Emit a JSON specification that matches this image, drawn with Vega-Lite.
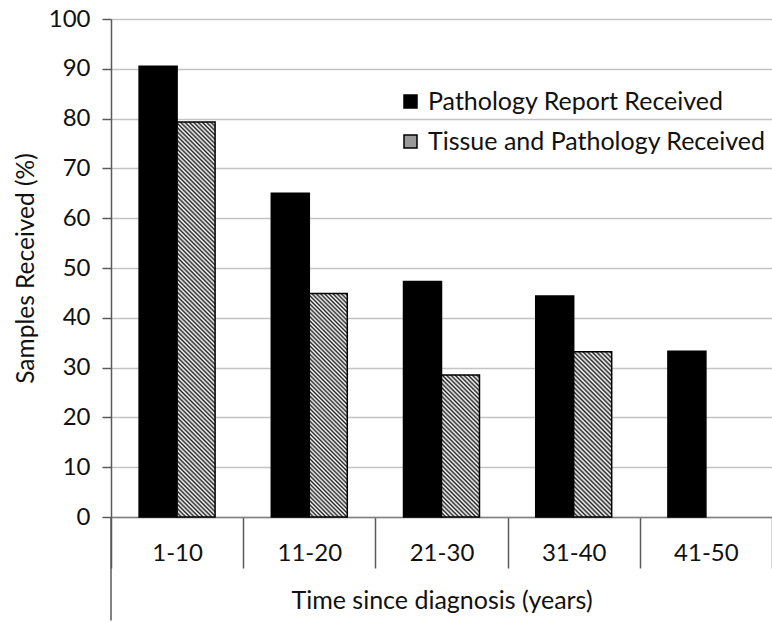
{
  "$schema": "https://vega.github.io/schema/vega-lite/v6.json",
  "autosize": {"type": "none"},
  "padding": {"left": 111, "top": 19, "right": 0, "bottom": 105},
  "width": 661,
  "height": 498,
  "background": "white",
  "config": {
    "font": "Lato",
    "view": {"stroke": null},
    "axis": {"labelColor": "#111", "titleColor": "#111", "titleFontWeight": "normal"}
  },
  "data": {
    "values": [
      {"cat": "1-10", "series": "Pathology Report Received", "value": 90.5},
      {"cat": "1-10", "series": "Tissue and Pathology Received", "value": 79.3},
      {"cat": "11-20", "series": "Pathology Report Received", "value": 65.0},
      {"cat": "11-20", "series": "Tissue and Pathology Received", "value": 44.9},
      {"cat": "21-30", "series": "Pathology Report Received", "value": 47.3},
      {"cat": "21-30", "series": "Tissue and Pathology Received", "value": 28.5},
      {"cat": "31-40", "series": "Pathology Report Received", "value": 44.4},
      {"cat": "31-40", "series": "Tissue and Pathology Received", "value": 33.2},
      {"cat": "41-50", "series": "Pathology Report Received", "value": 33.3},
      {"cat": "41-50", "series": "Tissue and Pathology Received", "value": 0}
    ]
  },
  "encoding": {
    "x": {
      "field": "cat", "type": "nominal",
      "scale": {"domain": ["1-10", "11-20", "21-30", "31-40", "41-50"], "paddingInner": 0, "paddingOuter": 0},
      "axis": {
        "title": "Time since diagnosis (years)", "titleFontSize": 25, "titlePadding": 20,
        "labelFontSize": 24, "labelAngle": 0, "labelPadding": -27,
        "tickBand": "extent", "tickSize": 51, "tickColor": "#5a5a5a", "tickWidth": 1.5,
        "domainColor": "#808080", "domainWidth": 1.5, "grid": false
      }
    },
    "y": {
      "field": "value", "type": "quantitative",
      "scale": {"domain": [0, 100], "nice": false},
      "axis": {
        "title": "Samples Received (%)", "titleFontSize": 24.5, "titlePadding": 10,
        "values": [0, 10, 20, 30, 40, 50, 60, 70, 80, 90, 100],
        "labelFontSize": 24, "labelPadding": 12,
        "tickSize": 9, "tickColor": "#5a5a5a", "tickWidth": 1.5,
        "domainColor": "#5a5a5a", "domainWidth": 1.5,
        "grid": true, "gridColor": "#c4c4c4", "gridWidth": 1.5
      }
    }
  },
  "layer": [
    {
      "transform": [{"filter": "datum.cat === '1-10' && datum.series === 'Pathology Report Received'"}],
      "mark": {"type": "rule", "color": "#5a5a5a", "strokeWidth": 1.5},
      "encoding": {
        "x": {"datum": "1-10", "bandPosition": 0},
        "y": {"datum": 0},
        "y2": {"datum": -20.8}
      }
    },
    {
      "transform": [{"filter": "datum.series === 'Pathology Report Received'"}],
      "mark": {"type": "bar", "stroke": "black", "strokeWidth": 1.5},
      "encoding": {
        "xOffset": {"field": "series", "scale": {"domain": ["Pathology Report Received", "Tissue and Pathology Received"], "paddingInner": 0, "paddingOuter": 0.74}},
        "color": {
          "field": "series", "type": "nominal",
          "scale": {"domain": ["Pathology Report Received", "Tissue and Pathology Received"], "range": ["black", "#999999"]},
          "legend": {
            "orient": "none", "legendX": 287, "legendY": 70, "title": null,
            "labelFontSize": 25, "labelColor": "#111", "labelOffset": 5, "labelLimit": 400,
            "symbolType": "square", "symbolSize": 169, "symbolStrokeColor": "black", "symbolStrokeWidth": 1.5,
            "rowPadding": 14
          }
        }
      }
    },
    {
      "transform": [{"filter": "datum.series === 'Tissue and Pathology Received' && datum.cat === '1-10'"}],
      "mark": {"type": "bar", "stroke": "black", "strokeWidth": 1.5,
        "fill": {"gradient": "linear", "x1": 0, "y1": 1, "x2": 0.1045, "y2": -0.0862, "stops": [
          {"offset": 0, "color": "#222"}, {"offset": 0.005, "color": "#fff"}, {"offset": 0.01, "color": "#222"}, {"offset": 0.015, "color": "#fff"}, {"offset": 0.02, "color": "#222"}, {"offset": 0.025, "color": "#fff"}, {"offset": 0.03, "color": "#222"}, {"offset": 0.035, "color": "#fff"}, {"offset": 0.04, "color": "#222"}, {"offset": 0.045, "color": "#fff"},
          {"offset": 0.05, "color": "#222"}, {"offset": 0.055, "color": "#fff"}, {"offset": 0.06, "color": "#222"}, {"offset": 0.065, "color": "#fff"}, {"offset": 0.07, "color": "#222"}, {"offset": 0.075, "color": "#fff"}, {"offset": 0.08, "color": "#222"}, {"offset": 0.085, "color": "#fff"}, {"offset": 0.09, "color": "#222"}, {"offset": 0.095, "color": "#fff"},
          {"offset": 0.1, "color": "#222"}, {"offset": 0.105, "color": "#fff"}, {"offset": 0.11, "color": "#222"}, {"offset": 0.115, "color": "#fff"}, {"offset": 0.12, "color": "#222"}, {"offset": 0.125, "color": "#fff"}, {"offset": 0.13, "color": "#222"}, {"offset": 0.135, "color": "#fff"}, {"offset": 0.14, "color": "#222"}, {"offset": 0.145, "color": "#fff"},
          {"offset": 0.15, "color": "#222"}, {"offset": 0.155, "color": "#fff"}, {"offset": 0.16, "color": "#222"}, {"offset": 0.165, "color": "#fff"}, {"offset": 0.17, "color": "#222"}, {"offset": 0.175, "color": "#fff"}, {"offset": 0.18, "color": "#222"}, {"offset": 0.185, "color": "#fff"}, {"offset": 0.19, "color": "#222"}, {"offset": 0.195, "color": "#fff"},
          {"offset": 0.2, "color": "#222"}, {"offset": 0.205, "color": "#fff"}, {"offset": 0.21, "color": "#222"}, {"offset": 0.215, "color": "#fff"}, {"offset": 0.22, "color": "#222"}, {"offset": 0.225, "color": "#fff"}, {"offset": 0.23, "color": "#222"}, {"offset": 0.235, "color": "#fff"}, {"offset": 0.24, "color": "#222"}, {"offset": 0.245, "color": "#fff"},
          {"offset": 0.25, "color": "#222"}, {"offset": 0.255, "color": "#fff"}, {"offset": 0.26, "color": "#222"}, {"offset": 0.265, "color": "#fff"}, {"offset": 0.27, "color": "#222"}, {"offset": 0.275, "color": "#fff"}, {"offset": 0.28, "color": "#222"}, {"offset": 0.285, "color": "#fff"}, {"offset": 0.29, "color": "#222"}, {"offset": 0.295, "color": "#fff"},
          {"offset": 0.3, "color": "#222"}, {"offset": 0.305, "color": "#fff"}, {"offset": 0.31, "color": "#222"}, {"offset": 0.315, "color": "#fff"}, {"offset": 0.32, "color": "#222"}, {"offset": 0.325, "color": "#fff"}, {"offset": 0.33, "color": "#222"}, {"offset": 0.335, "color": "#fff"}, {"offset": 0.34, "color": "#222"}, {"offset": 0.345, "color": "#fff"},
          {"offset": 0.35, "color": "#222"}, {"offset": 0.355, "color": "#fff"}, {"offset": 0.36, "color": "#222"}, {"offset": 0.365, "color": "#fff"}, {"offset": 0.37, "color": "#222"}, {"offset": 0.375, "color": "#fff"}, {"offset": 0.38, "color": "#222"}, {"offset": 0.385, "color": "#fff"}, {"offset": 0.39, "color": "#222"}, {"offset": 0.395, "color": "#fff"},
          {"offset": 0.4, "color": "#222"}, {"offset": 0.405, "color": "#fff"}, {"offset": 0.41, "color": "#222"}, {"offset": 0.415, "color": "#fff"}, {"offset": 0.42, "color": "#222"}, {"offset": 0.425, "color": "#fff"}, {"offset": 0.43, "color": "#222"}, {"offset": 0.435, "color": "#fff"}, {"offset": 0.44, "color": "#222"}, {"offset": 0.445, "color": "#fff"},
          {"offset": 0.45, "color": "#222"}, {"offset": 0.455, "color": "#fff"}, {"offset": 0.46, "color": "#222"}, {"offset": 0.465, "color": "#fff"}, {"offset": 0.47, "color": "#222"}, {"offset": 0.475, "color": "#fff"}, {"offset": 0.48, "color": "#222"}, {"offset": 0.485, "color": "#fff"}, {"offset": 0.49, "color": "#222"}, {"offset": 0.495, "color": "#fff"},
          {"offset": 0.5, "color": "#222"}, {"offset": 0.505, "color": "#fff"}, {"offset": 0.51, "color": "#222"}, {"offset": 0.515, "color": "#fff"}, {"offset": 0.52, "color": "#222"}, {"offset": 0.525, "color": "#fff"}, {"offset": 0.53, "color": "#222"}, {"offset": 0.535, "color": "#fff"}, {"offset": 0.54, "color": "#222"}, {"offset": 0.545, "color": "#fff"},
          {"offset": 0.55, "color": "#222"}, {"offset": 0.555, "color": "#fff"}, {"offset": 0.56, "color": "#222"}, {"offset": 0.565, "color": "#fff"}, {"offset": 0.57, "color": "#222"}, {"offset": 0.575, "color": "#fff"}, {"offset": 0.58, "color": "#222"}, {"offset": 0.585, "color": "#fff"}, {"offset": 0.59, "color": "#222"}, {"offset": 0.595, "color": "#fff"},
          {"offset": 0.6, "color": "#222"}, {"offset": 0.605, "color": "#fff"}, {"offset": 0.61, "color": "#222"}, {"offset": 0.615, "color": "#fff"}, {"offset": 0.62, "color": "#222"}, {"offset": 0.625, "color": "#fff"}, {"offset": 0.63, "color": "#222"}, {"offset": 0.635, "color": "#fff"}, {"offset": 0.64, "color": "#222"}, {"offset": 0.645, "color": "#fff"},
          {"offset": 0.65, "color": "#222"}, {"offset": 0.655, "color": "#fff"}, {"offset": 0.66, "color": "#222"}, {"offset": 0.665, "color": "#fff"}, {"offset": 0.67, "color": "#222"}, {"offset": 0.675, "color": "#fff"}, {"offset": 0.68, "color": "#222"}, {"offset": 0.685, "color": "#fff"}, {"offset": 0.69, "color": "#222"}, {"offset": 0.695, "color": "#fff"},
          {"offset": 0.7, "color": "#222"}, {"offset": 0.705, "color": "#fff"}, {"offset": 0.71, "color": "#222"}, {"offset": 0.715, "color": "#fff"}, {"offset": 0.72, "color": "#222"}, {"offset": 0.725, "color": "#fff"}, {"offset": 0.73, "color": "#222"}, {"offset": 0.735, "color": "#fff"}, {"offset": 0.74, "color": "#222"}, {"offset": 0.745, "color": "#fff"},
          {"offset": 0.75, "color": "#222"}, {"offset": 0.755, "color": "#fff"}, {"offset": 0.76, "color": "#222"}, {"offset": 0.765, "color": "#fff"}, {"offset": 0.77, "color": "#222"}, {"offset": 0.775, "color": "#fff"}, {"offset": 0.78, "color": "#222"}, {"offset": 0.785, "color": "#fff"}, {"offset": 0.79, "color": "#222"}, {"offset": 0.795, "color": "#fff"},
          {"offset": 0.8, "color": "#222"}, {"offset": 0.805, "color": "#fff"}, {"offset": 0.81, "color": "#222"}, {"offset": 0.815, "color": "#fff"}, {"offset": 0.82, "color": "#222"}, {"offset": 0.825, "color": "#fff"}, {"offset": 0.83, "color": "#222"}, {"offset": 0.835, "color": "#fff"}, {"offset": 0.84, "color": "#222"}, {"offset": 0.845, "color": "#fff"},
          {"offset": 0.85, "color": "#222"}, {"offset": 0.855, "color": "#fff"}, {"offset": 0.86, "color": "#222"}, {"offset": 0.865, "color": "#fff"}, {"offset": 0.87, "color": "#222"}, {"offset": 0.875, "color": "#fff"}, {"offset": 0.88, "color": "#222"}, {"offset": 0.885, "color": "#fff"}, {"offset": 0.89, "color": "#222"}, {"offset": 0.895, "color": "#fff"},
          {"offset": 0.9, "color": "#222"}, {"offset": 0.905, "color": "#fff"}, {"offset": 0.91, "color": "#222"}, {"offset": 0.915, "color": "#fff"}, {"offset": 0.92, "color": "#222"}, {"offset": 0.925, "color": "#fff"}, {"offset": 0.93, "color": "#222"}, {"offset": 0.935, "color": "#fff"}, {"offset": 0.94, "color": "#222"}, {"offset": 0.945, "color": "#fff"},
          {"offset": 0.95, "color": "#222"}, {"offset": 0.955, "color": "#fff"}, {"offset": 0.96, "color": "#222"}, {"offset": 0.965, "color": "#fff"}, {"offset": 0.97, "color": "#222"}, {"offset": 0.975, "color": "#fff"}, {"offset": 0.98, "color": "#222"}, {"offset": 0.985, "color": "#fff"}, {"offset": 0.99, "color": "#222"}, {"offset": 0.995, "color": "#fff"},
          {"offset": 1, "color": "#222"}
        ]}},
      "encoding": {
        "xOffset": {"field": "series", "scale": {"domain": ["Pathology Report Received", "Tissue and Pathology Received"], "paddingInner": 0, "paddingOuter": 0.74}}
      }
    },
    {
      "transform": [{"filter": "datum.series === 'Tissue and Pathology Received' && datum.cat === '11-20'"}],
      "mark": {"type": "bar", "stroke": "black", "strokeWidth": 1.5,
        "fill": {"gradient": "linear", "x1": 0, "y1": 1, "x2": 0.1933, "y2": -0.1371, "stops": [
          {"offset": 0, "color": "#222"}, {"offset": 0.008, "color": "#fff"}, {"offset": 0.016, "color": "#222"}, {"offset": 0.024, "color": "#fff"}, {"offset": 0.032, "color": "#222"}, {"offset": 0.04, "color": "#fff"}, {"offset": 0.048, "color": "#222"}, {"offset": 0.056, "color": "#fff"}, {"offset": 0.064, "color": "#222"}, {"offset": 0.072, "color": "#fff"},
          {"offset": 0.08, "color": "#222"}, {"offset": 0.088, "color": "#fff"}, {"offset": 0.096, "color": "#222"}, {"offset": 0.104, "color": "#fff"}, {"offset": 0.112, "color": "#222"}, {"offset": 0.12, "color": "#fff"}, {"offset": 0.128, "color": "#222"}, {"offset": 0.136, "color": "#fff"}, {"offset": 0.144, "color": "#222"}, {"offset": 0.152, "color": "#fff"},
          {"offset": 0.16, "color": "#222"}, {"offset": 0.168, "color": "#fff"}, {"offset": 0.176, "color": "#222"}, {"offset": 0.184, "color": "#fff"}, {"offset": 0.192, "color": "#222"}, {"offset": 0.2, "color": "#fff"}, {"offset": 0.208, "color": "#222"}, {"offset": 0.216, "color": "#fff"}, {"offset": 0.224, "color": "#222"}, {"offset": 0.232, "color": "#fff"},
          {"offset": 0.24, "color": "#222"}, {"offset": 0.248, "color": "#fff"}, {"offset": 0.256, "color": "#222"}, {"offset": 0.264, "color": "#fff"}, {"offset": 0.272, "color": "#222"}, {"offset": 0.28, "color": "#fff"}, {"offset": 0.288, "color": "#222"}, {"offset": 0.296, "color": "#fff"}, {"offset": 0.304, "color": "#222"}, {"offset": 0.312, "color": "#fff"},
          {"offset": 0.32, "color": "#222"}, {"offset": 0.328, "color": "#fff"}, {"offset": 0.336, "color": "#222"}, {"offset": 0.344, "color": "#fff"}, {"offset": 0.352, "color": "#222"}, {"offset": 0.36, "color": "#fff"}, {"offset": 0.368, "color": "#222"}, {"offset": 0.376, "color": "#fff"}, {"offset": 0.384, "color": "#222"}, {"offset": 0.392, "color": "#fff"},
          {"offset": 0.4, "color": "#222"}, {"offset": 0.408, "color": "#fff"}, {"offset": 0.416, "color": "#222"}, {"offset": 0.424, "color": "#fff"}, {"offset": 0.432, "color": "#222"}, {"offset": 0.44, "color": "#fff"}, {"offset": 0.448, "color": "#222"}, {"offset": 0.456, "color": "#fff"}, {"offset": 0.464, "color": "#222"}, {"offset": 0.472, "color": "#fff"},
          {"offset": 0.48, "color": "#222"}, {"offset": 0.488, "color": "#fff"}, {"offset": 0.496, "color": "#222"}, {"offset": 0.504, "color": "#fff"}, {"offset": 0.512, "color": "#222"}, {"offset": 0.52, "color": "#fff"}, {"offset": 0.528, "color": "#222"}, {"offset": 0.536, "color": "#fff"}, {"offset": 0.544, "color": "#222"}, {"offset": 0.552, "color": "#fff"},
          {"offset": 0.56, "color": "#222"}, {"offset": 0.568, "color": "#fff"}, {"offset": 0.576, "color": "#222"}, {"offset": 0.584, "color": "#fff"}, {"offset": 0.592, "color": "#222"}, {"offset": 0.6, "color": "#fff"}, {"offset": 0.608, "color": "#222"}, {"offset": 0.616, "color": "#fff"}, {"offset": 0.624, "color": "#222"}, {"offset": 0.632, "color": "#fff"},
          {"offset": 0.64, "color": "#222"}, {"offset": 0.648, "color": "#fff"}, {"offset": 0.656, "color": "#222"}, {"offset": 0.664, "color": "#fff"}, {"offset": 0.672, "color": "#222"}, {"offset": 0.68, "color": "#fff"}, {"offset": 0.688, "color": "#222"}, {"offset": 0.696, "color": "#fff"}, {"offset": 0.704, "color": "#222"}, {"offset": 0.712, "color": "#fff"},
          {"offset": 0.72, "color": "#222"}, {"offset": 0.728, "color": "#fff"}, {"offset": 0.736, "color": "#222"}, {"offset": 0.744, "color": "#fff"}, {"offset": 0.752, "color": "#222"}, {"offset": 0.76, "color": "#fff"}, {"offset": 0.768, "color": "#222"}, {"offset": 0.776, "color": "#fff"}, {"offset": 0.784, "color": "#222"}, {"offset": 0.792, "color": "#fff"},
          {"offset": 0.8, "color": "#222"}, {"offset": 0.808, "color": "#fff"}, {"offset": 0.816, "color": "#222"}, {"offset": 0.824, "color": "#fff"}, {"offset": 0.832, "color": "#222"}, {"offset": 0.84, "color": "#fff"}, {"offset": 0.848, "color": "#222"}, {"offset": 0.856, "color": "#fff"}, {"offset": 0.864, "color": "#222"}, {"offset": 0.872, "color": "#fff"},
          {"offset": 0.88, "color": "#222"}, {"offset": 0.888, "color": "#fff"}, {"offset": 0.896, "color": "#222"}, {"offset": 0.904, "color": "#fff"}, {"offset": 0.912, "color": "#222"}, {"offset": 0.92, "color": "#fff"}, {"offset": 0.928, "color": "#222"}, {"offset": 0.936, "color": "#fff"}, {"offset": 0.944, "color": "#222"}, {"offset": 0.952, "color": "#fff"},
          {"offset": 0.96, "color": "#222"}, {"offset": 0.968, "color": "#fff"}, {"offset": 0.976, "color": "#222"}, {"offset": 0.984, "color": "#fff"}, {"offset": 0.992, "color": "#222"}, {"offset": 1, "color": "#fff"}
        ]}},
      "encoding": {
        "xOffset": {"field": "series", "scale": {"domain": ["Pathology Report Received", "Tissue and Pathology Received"], "paddingInner": 0, "paddingOuter": 0.74}}
      }
    },
    {
      "transform": [{"filter": "datum.series === 'Tissue and Pathology Received' && datum.cat === '21-30'"}],
      "mark": {"type": "bar", "stroke": "black", "strokeWidth": 1.5,
        "fill": {"gradient": "linear", "x1": 0, "y1": 1, "x2": 0.3168, "y2": -0.1829, "stops": [
          {"offset": 0, "color": "#222"}, {"offset": 0.012, "color": "#fff"}, {"offset": 0.024, "color": "#222"}, {"offset": 0.036, "color": "#fff"}, {"offset": 0.048, "color": "#222"}, {"offset": 0.06, "color": "#fff"}, {"offset": 0.072, "color": "#222"}, {"offset": 0.084, "color": "#fff"}, {"offset": 0.096, "color": "#222"}, {"offset": 0.108, "color": "#fff"},
          {"offset": 0.12, "color": "#222"}, {"offset": 0.132, "color": "#fff"}, {"offset": 0.144, "color": "#222"}, {"offset": 0.156, "color": "#fff"}, {"offset": 0.168, "color": "#222"}, {"offset": 0.18, "color": "#fff"}, {"offset": 0.192, "color": "#222"}, {"offset": 0.204, "color": "#fff"}, {"offset": 0.216, "color": "#222"}, {"offset": 0.228, "color": "#fff"},
          {"offset": 0.24, "color": "#222"}, {"offset": 0.252, "color": "#fff"}, {"offset": 0.264, "color": "#222"}, {"offset": 0.276, "color": "#fff"}, {"offset": 0.288, "color": "#222"}, {"offset": 0.3, "color": "#fff"}, {"offset": 0.312, "color": "#222"}, {"offset": 0.324, "color": "#fff"}, {"offset": 0.336, "color": "#222"}, {"offset": 0.348, "color": "#fff"},
          {"offset": 0.36, "color": "#222"}, {"offset": 0.372, "color": "#fff"}, {"offset": 0.384, "color": "#222"}, {"offset": 0.396, "color": "#fff"}, {"offset": 0.408, "color": "#222"}, {"offset": 0.42, "color": "#fff"}, {"offset": 0.432, "color": "#222"}, {"offset": 0.444, "color": "#fff"}, {"offset": 0.456, "color": "#222"}, {"offset": 0.468, "color": "#fff"},
          {"offset": 0.48, "color": "#222"}, {"offset": 0.492, "color": "#fff"}, {"offset": 0.504, "color": "#222"}, {"offset": 0.516, "color": "#fff"}, {"offset": 0.528, "color": "#222"}, {"offset": 0.54, "color": "#fff"}, {"offset": 0.552, "color": "#222"}, {"offset": 0.564, "color": "#fff"}, {"offset": 0.576, "color": "#222"}, {"offset": 0.588, "color": "#fff"},
          {"offset": 0.6, "color": "#222"}, {"offset": 0.612, "color": "#fff"}, {"offset": 0.624, "color": "#222"}, {"offset": 0.636, "color": "#fff"}, {"offset": 0.648, "color": "#222"}, {"offset": 0.66, "color": "#fff"}, {"offset": 0.672, "color": "#222"}, {"offset": 0.684, "color": "#fff"}, {"offset": 0.696, "color": "#222"}, {"offset": 0.708, "color": "#fff"},
          {"offset": 0.72, "color": "#222"}, {"offset": 0.732, "color": "#fff"}, {"offset": 0.744, "color": "#222"}, {"offset": 0.756, "color": "#fff"}, {"offset": 0.768, "color": "#222"}, {"offset": 0.78, "color": "#fff"}, {"offset": 0.792, "color": "#222"}, {"offset": 0.804, "color": "#fff"}, {"offset": 0.816, "color": "#222"}, {"offset": 0.828, "color": "#fff"},
          {"offset": 0.84, "color": "#222"}, {"offset": 0.852, "color": "#fff"}, {"offset": 0.864, "color": "#222"}, {"offset": 0.876, "color": "#fff"}, {"offset": 0.888, "color": "#222"}, {"offset": 0.9, "color": "#fff"}, {"offset": 0.912, "color": "#222"}, {"offset": 0.924, "color": "#fff"}, {"offset": 0.936, "color": "#222"}, {"offset": 0.948, "color": "#fff"},
          {"offset": 0.96, "color": "#222"}, {"offset": 0.972, "color": "#fff"}, {"offset": 0.984, "color": "#222"}, {"offset": 0.996, "color": "#fff"}
        ]}},
      "encoding": {
        "xOffset": {"field": "series", "scale": {"domain": ["Pathology Report Received", "Tissue and Pathology Received"], "paddingInner": 0, "paddingOuter": 0.74}}
      }
    },
    {
      "transform": [{"filter": "datum.series === 'Tissue and Pathology Received' && datum.cat === '31-40'"}],
      "mark": {"type": "bar", "stroke": "black", "strokeWidth": 1.5,
        "fill": {"gradient": "linear", "x1": 0, "y1": 1, "x2": 0.2685, "y2": -0.1682, "stops": [
          {"offset": 0, "color": "#222"}, {"offset": 0.011, "color": "#fff"}, {"offset": 0.022, "color": "#222"}, {"offset": 0.033, "color": "#fff"}, {"offset": 0.044, "color": "#222"}, {"offset": 0.055, "color": "#fff"}, {"offset": 0.066, "color": "#222"}, {"offset": 0.077, "color": "#fff"}, {"offset": 0.088, "color": "#222"}, {"offset": 0.099, "color": "#fff"},
          {"offset": 0.11, "color": "#222"}, {"offset": 0.121, "color": "#fff"}, {"offset": 0.132, "color": "#222"}, {"offset": 0.143, "color": "#fff"}, {"offset": 0.154, "color": "#222"}, {"offset": 0.165, "color": "#fff"}, {"offset": 0.176, "color": "#222"}, {"offset": 0.187, "color": "#fff"}, {"offset": 0.198, "color": "#222"}, {"offset": 0.209, "color": "#fff"},
          {"offset": 0.22, "color": "#222"}, {"offset": 0.231, "color": "#fff"}, {"offset": 0.242, "color": "#222"}, {"offset": 0.253, "color": "#fff"}, {"offset": 0.264, "color": "#222"}, {"offset": 0.275, "color": "#fff"}, {"offset": 0.286, "color": "#222"}, {"offset": 0.297, "color": "#fff"}, {"offset": 0.308, "color": "#222"}, {"offset": 0.319, "color": "#fff"},
          {"offset": 0.33, "color": "#222"}, {"offset": 0.341, "color": "#fff"}, {"offset": 0.352, "color": "#222"}, {"offset": 0.363, "color": "#fff"}, {"offset": 0.374, "color": "#222"}, {"offset": 0.385, "color": "#fff"}, {"offset": 0.396, "color": "#222"}, {"offset": 0.407, "color": "#fff"}, {"offset": 0.418, "color": "#222"}, {"offset": 0.429, "color": "#fff"},
          {"offset": 0.44, "color": "#222"}, {"offset": 0.451, "color": "#fff"}, {"offset": 0.462, "color": "#222"}, {"offset": 0.473, "color": "#fff"}, {"offset": 0.484, "color": "#222"}, {"offset": 0.495, "color": "#fff"}, {"offset": 0.506, "color": "#222"}, {"offset": 0.517, "color": "#fff"}, {"offset": 0.528, "color": "#222"}, {"offset": 0.539, "color": "#fff"},
          {"offset": 0.55, "color": "#222"}, {"offset": 0.561, "color": "#fff"}, {"offset": 0.572, "color": "#222"}, {"offset": 0.583, "color": "#fff"}, {"offset": 0.594, "color": "#222"}, {"offset": 0.605, "color": "#fff"}, {"offset": 0.616, "color": "#222"}, {"offset": 0.627, "color": "#fff"}, {"offset": 0.638, "color": "#222"}, {"offset": 0.649, "color": "#fff"},
          {"offset": 0.66, "color": "#222"}, {"offset": 0.671, "color": "#fff"}, {"offset": 0.682, "color": "#222"}, {"offset": 0.693, "color": "#fff"}, {"offset": 0.704, "color": "#222"}, {"offset": 0.715, "color": "#fff"}, {"offset": 0.726, "color": "#222"}, {"offset": 0.737, "color": "#fff"}, {"offset": 0.748, "color": "#222"}, {"offset": 0.759, "color": "#fff"},
          {"offset": 0.77, "color": "#222"}, {"offset": 0.781, "color": "#fff"}, {"offset": 0.792, "color": "#222"}, {"offset": 0.803, "color": "#fff"}, {"offset": 0.814, "color": "#222"}, {"offset": 0.825, "color": "#fff"}, {"offset": 0.836, "color": "#222"}, {"offset": 0.847, "color": "#fff"}, {"offset": 0.858, "color": "#222"}, {"offset": 0.869, "color": "#fff"},
          {"offset": 0.88, "color": "#222"}, {"offset": 0.891, "color": "#fff"}, {"offset": 0.902, "color": "#222"}, {"offset": 0.913, "color": "#fff"}, {"offset": 0.924, "color": "#222"}, {"offset": 0.935, "color": "#fff"}, {"offset": 0.946, "color": "#222"}, {"offset": 0.957, "color": "#fff"}, {"offset": 0.968, "color": "#222"}, {"offset": 0.979, "color": "#fff"},
          {"offset": 0.99, "color": "#222"}
        ]}},
      "encoding": {
        "xOffset": {"field": "series", "scale": {"domain": ["Pathology Report Received", "Tissue and Pathology Received"], "paddingInner": 0, "paddingOuter": 0.74}}
      }
    }
  ]
}
